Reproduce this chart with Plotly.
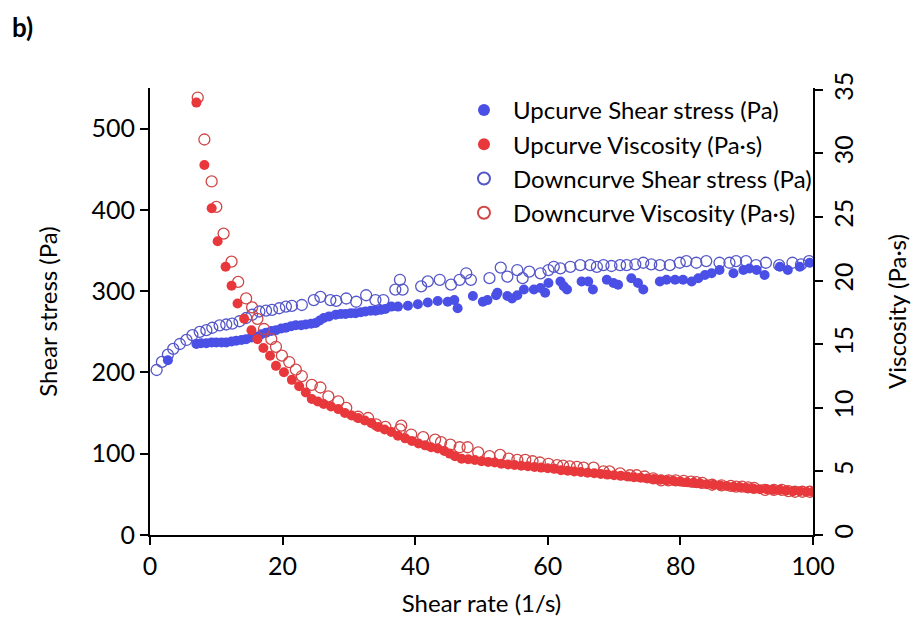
import plotly.graph_objects as go

# ---- Upcurve shear stress (Pa) ----
up_ss_x = [2.7, 7.0, 7.7, 8.5, 9.3, 10.0, 10.8, 11.5, 12.3, 13.0, 13.8, 14.5, 15.3, 16.0, 16.8,
           17.5, 18.3, 19.0, 19.8, 20.5, 21.3, 22.0, 22.8, 23.5, 24.3, 25.0, 25.6, 26.2, 27.0,
           28.0, 28.8, 29.5, 30.3, 31.0, 31.8, 32.5, 33.3, 34.0, 34.8, 35.5, 36.4, 37.4, 38.9,
           40.4, 41.9, 43.4, 44.9, 45.9, 46.4, 48.7, 50.2, 50.9, 52.2, 52.4, 53.9, 54.6, 55.4,
           56.4, 57.9, 58.9, 59.6, 60.1, 61.9, 62.4, 62.9, 65.1, 66.1, 66.8, 68.9, 69.9, 70.6,
           72.6, 73.6, 74.4, 76.9, 77.9, 79.2, 80.4, 81.7, 82.7, 83.7, 84.7, 85.9, 88.0, 89.5,
           90.4, 91.5, 92.7, 95.0, 96.2, 98.0, 99.5]
up_ss_y = [215, 235, 236, 236, 237, 237, 237, 237, 238, 239, 240, 241, 243, 244, 247,
           249, 251, 252, 254, 255, 257, 258, 258, 259, 260, 261, 264, 267, 269,
           271, 272, 272, 273, 273, 274, 275, 276, 276, 277, 278, 281, 281, 282,
           284, 286, 288, 287, 289, 279, 294, 287, 289, 295, 298, 294, 291, 295,
           302, 302, 304, 298, 310, 312, 306, 302, 312, 312, 302, 314, 310, 308,
           316, 310, 302, 312, 314, 314, 314, 312, 316, 320, 322, 326, 322, 326,
           328, 326, 320, 330, 326, 330, 335]

# ---- Upcurve viscosity (Pa·s) ----
up_vis_x = [7.0, 8.2, 9.3, 10.2, 11.4, 12.3, 13.2, 14.2, 15.3, 16.2, 17.1, 18.1, 19.0, 20.2,
            21.4, 22.5, 23.5, 24.4, 25.3, 26.2, 27.3, 28.4, 29.4, 30.4, 31.4, 32.4, 33.4,
            34.4, 35.4, 36.4, 37.4, 38.5, 39.5, 40.5, 41.5, 42.4, 43.4, 44.4, 45.2, 46.0,
            47.0, 48.0, 49.0, 50.0, 51.0, 52.0, 53.0, 54.0, 55.0, 56.0, 57.0, 58.0, 59.0,
            60.0, 61.0, 62.0, 63.0, 64.0, 65.0, 66.0, 67.0, 68.0, 69.0, 70.0, 71.0, 72.0,
            73.0, 74.0, 75.0, 76.0, 77.0, 78.0, 79.0, 80.0, 81.0, 82.0, 83.0, 84.0, 85.0,
            86.0, 87.0, 88.0, 89.0, 90.0, 91.0, 92.0, 93.0, 94.0, 95.0, 96.0, 97.0, 98.0,
            99.0, 100.0]
up_vis_y = [34.0, 29.1, 25.7, 23.1, 21.1, 19.6, 18.2, 17.0, 16.1, 15.4, 14.7, 14.1, 13.3, 12.8,
            12.2, 11.7, 11.2, 10.7, 10.5, 10.3, 10.1, 9.9, 9.6, 9.4, 9.2, 9.0, 8.8,
            8.5, 8.3, 8.1, 7.8, 7.6, 7.4, 7.2, 7.05, 6.9, 6.8, 6.6, 6.4, 6.2,
            6.0, 5.95, 5.9, 5.8, 5.75, 5.7, 5.6, 5.55, 5.5, 5.45, 5.4, 5.35, 5.3,
            5.25, 5.2, 5.1, 5.05, 5.0, 4.95, 4.9, 4.85, 4.8, 4.75, 4.7, 4.65, 4.6,
            4.55, 4.5, 4.45, 4.4, 4.35, 4.3, 4.25, 4.2, 4.15, 4.1, 4.05, 4.0, 3.95,
            3.9, 3.85, 3.8, 3.75, 3.7, 3.65, 3.6, 3.6, 3.55, 3.55, 3.5, 3.45, 3.45,
            3.4, 3.4]

# ---- Downcurve shear stress (Pa) ----
dn_ss_x = [1.0, 1.8, 2.7, 3.5, 4.5, 5.5, 6.4, 7.5, 8.5, 9.4, 10.5, 11.5, 12.4, 13.5, 14.5,
           15.4, 16.5, 17.5, 18.4, 19.5, 20.5, 21.4, 22.9, 24.7, 25.7, 27.2, 28.1, 29.6,
           31.1, 32.6, 34.0, 35.2, 37.0, 37.7, 38.1, 40.9, 41.9, 43.7, 45.4, 46.7, 47.7,
           48.4, 51.2, 52.9, 53.9, 55.4, 56.2, 57.2, 58.9, 60.1, 60.9, 61.9, 63.4, 64.9,
           66.4, 67.4, 68.4, 69.6, 70.9, 71.9, 73.2, 74.4, 75.6, 76.9, 78.4, 79.9, 80.9,
           82.4, 83.9, 85.9, 87.4, 88.4, 89.9, 91.4, 92.9, 94.9, 96.9, 98.2, 99.4]
dn_ss_y = [203, 213, 222, 229, 235, 240, 246, 250, 252, 255, 258, 259, 260, 263, 267,
           271, 275, 276, 277, 279, 281, 282, 283, 289, 293, 289, 288, 291,
           287, 295, 289, 289, 302, 314, 302, 306, 312, 314, 308, 314, 322,
           314, 316, 329, 318, 326, 316, 324, 322, 326, 330, 328, 330, 332,
           332, 330, 332, 331, 332, 332, 333, 335, 333, 332, 332, 335, 337,
           335, 337, 335, 335, 337, 337, 332, 335, 332, 335, 333, 337]

# ---- Downcurve viscosity (Pa·s) ----
dn_vis_x = [7.2, 8.2, 9.3, 10.0, 11.1, 12.3, 13.3, 14.5, 15.4, 16.2, 17.2, 18.3, 19.0, 19.9,
            21.0, 22.0, 22.9, 24.4, 25.7, 26.9, 28.4, 29.6, 31.4, 32.9, 34.1, 35.5, 37.7,
            37.9, 39.4, 41.2, 43.0, 43.9, 45.3, 46.7, 47.9, 49.5, 51.2, 52.8, 54.1, 55.4,
            56.6, 57.7, 58.8, 60.1, 61.4, 62.3, 63.3, 64.4, 65.4, 66.9, 68.4, 69.3, 70.9,
            72.4, 73.4, 74.6, 75.9, 77.1, 78.2, 79.3, 80.5, 81.6, 82.4, 83.3, 84.8, 86.2,
            87.6, 88.4, 89.3, 90.2, 91.1, 92.8, 94.1, 95.3, 96.3, 97.3, 98.4, 99.5]
dn_vis_y = [34.4, 31.1, 27.8, 25.8, 23.7, 21.5, 19.9, 18.6, 17.9, 17.0, 16.2, 15.4, 14.8, 14.1,
            13.6, 13.0, 12.5, 11.8, 11.6, 10.9, 10.5, 10.0, 9.3, 9.2, 8.7, 8.5, 8.3,
            8.6, 7.9, 7.7, 7.5, 7.3, 7.1, 6.9, 6.9, 6.5, 6.2, 6.3, 6.0, 5.9,
            5.9, 5.8, 5.7, 5.6, 5.5, 5.45, 5.4, 5.35, 5.3, 5.3, 5.0, 5.0, 4.85,
            4.7, 4.7, 4.6, 4.45, 4.3, 4.3, 4.3, 4.25, 4.2, 4.15, 4.1, 3.95, 3.9,
            3.87, 3.8, 3.8, 3.75, 3.7, 3.55, 3.55, 3.55, 3.45, 3.4, 3.4, 3.4]

x_ticks = [0, 20, 40, 60, 80, 100]
y_ticks = [0, 100, 200, 300, 400, 500]
y2_ticks = [0, 5, 10, 15, 20, 25, 30, 35]

BLUE = "#4A4FE6"
RED = "#E8383B"
BLUE_O = "#5557C8"
RED_O = "#D04646"
FONT = "Lato"

fig = go.Figure()
fig.add_trace(go.Scatter(x=dn_ss_x, y=dn_ss_y, mode="markers", name="Downcurve Shear stress (Pa)",
                         marker=dict(symbol="circle-open", size=11, color=BLUE_O, line=dict(width=1.3)),
                         legendrank=3, yaxis="y"))
fig.add_trace(go.Scatter(x=dn_vis_x, y=dn_vis_y, mode="markers", name="Downcurve Viscosity (Pa·s)",
                         marker=dict(symbol="circle-open", size=11, color=RED_O, line=dict(width=1.3)),
                         legendrank=4, yaxis="y2"))
fig.add_trace(go.Scatter(x=up_ss_x, y=up_ss_y, mode="markers", name="Upcurve Shear stress (Pa)",
                         marker=dict(symbol="circle", size=10, color=BLUE),
                         legendrank=1, yaxis="y"))
fig.add_trace(go.Scatter(x=up_vis_x, y=up_vis_y, mode="markers", name="Upcurve Viscosity (Pa·s)",
                         marker=dict(symbol="circle", size=10, color=RED),
                         legendrank=2, yaxis="y2"))

axis_common = dict(showline=True, linewidth=2, linecolor="black", ticks="outside", ticklen=8,
                   tickwidth=2, tickcolor="black", showgrid=False, zeroline=False,
                   tickfont=dict(family=FONT, size=25, color="black"))

fig.update_layout(
    width=919, height=625,
    margin=dict(l=150, r=101, t=88, b=90),
    paper_bgcolor="white", plot_bgcolor="white",
    font=dict(family=FONT, size=24, color="black"),
    title=dict(text="<b>b)</b>", x=0.013, xanchor="left", xref="container",
               y=0.955, yanchor="middle", yref="container",
               font=dict(family=FONT, size=26, color="black")),
    xaxis=dict(range=[0, 100], tickvals=x_ticks, title=dict(text="Shear rate (1/s)", standoff=16,
               font=dict(family=FONT, size=24)), **axis_common),
    yaxis=dict(range=[0, 550], tickvals=y_ticks, title=dict(text="Shear stress (Pa)", standoff=27,
               font=dict(family=FONT, size=24)), **axis_common),
    yaxis2=dict(range=[0, 35.15], tickvals=y2_ticks, overlaying="y", side="right", anchor="x",
                tickangle=-90, title=dict(text="Viscosity (Pa·s)", standoff=32,
                font=dict(family=FONT, size=24)), **axis_common),
    legend=dict(x=0.46, y=1.0, xanchor="left", yanchor="top", bgcolor="rgba(0,0,0,0)",
                font=dict(family=FONT, size=24, color="black"), itemsizing="constant",
                itemwidth=48),
)

fig.write_html("out.html")
